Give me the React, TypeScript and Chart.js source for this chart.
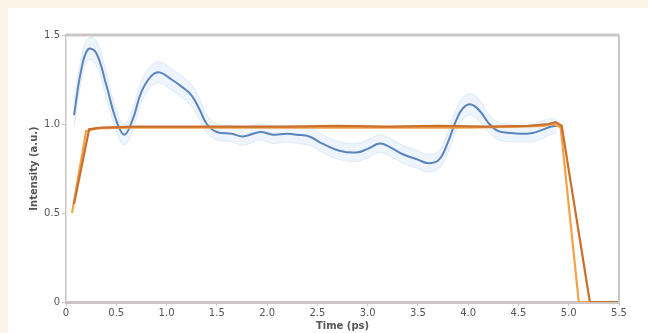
import React, { useEffect, useRef } from "react";
import { Chart, registerables } from "chart.js";

Chart.register(...registerables);

const xTicks = [0, 0.5, 1, 1.5, 2, 2.5, 3, 3.5, 4, 4.5, 5, 5.5];
const yTicks = [0, 0.5, 1, 1.5];

const blueT = [0.08,0.15,0.22,0.30,0.40,0.50,0.58,0.66,0.75,0.85,
  0.93,1.05,1.15,1.25,1.33,1.40,1.50,1.65,1.76,1.93,
  2.06,2.20,2.30,2.42,2.55,2.72,2.89,3.00,3.12,3.22,
  3.35,3.50,3.60,3.71,3.80,3.88,3.95,4.03,4.12,4.21,
  4.30,4.41,4.52,4.64,4.75,4.82,4.88];
const blueV = [1.05,1.30,1.42,1.40,1.22,1.02,0.94,1.02,1.18,1.27,
  1.29,1.25,1.21,1.16,1.08,1.00,0.955,0.945,0.93,0.955,
  0.94,0.945,0.94,0.93,0.89,0.85,0.84,0.86,0.89,0.87,
  0.83,0.80,0.78,0.80,0.90,1.02,1.09,1.11,1.07,1.00,
  0.96,0.95,0.945,0.95,0.97,0.985,0.99];
const blueHi = [1.12,1.37,1.48,1.47,1.29,1.08,1.00,1.08,1.24,1.33,
  1.35,1.31,1.27,1.22,1.14,1.05,1.00,0.99,0.98,1.00,
  0.99,0.99,0.99,0.98,0.94,0.90,0.89,0.91,0.94,0.92,
  0.88,0.85,0.83,0.85,0.96,1.08,1.15,1.17,1.13,1.05,
  1.01,1.00,0.99,1.00,1.02,1.03,1.03];
const blueLo = [0.98,1.23,1.36,1.33,1.15,0.96,0.88,0.96,1.12,1.21,
  1.23,1.19,1.15,1.10,1.02,0.95,0.91,0.90,0.88,0.91,
  0.89,0.90,0.89,0.88,0.84,0.80,0.79,0.81,0.84,0.82,
  0.78,0.75,0.73,0.75,0.84,0.96,1.03,1.05,1.01,0.95,
  0.91,0.90,0.90,0.90,0.92,0.94,0.95];

const orangeT = [0.06,0.20,0.30,0.60,1.0,1.5,2.0,2.5,3.0,3.5,4.0,4.5,4.75,4.85,4.92,5.10,5.5];
const orangeV = [0.50,0.96,0.975,0.98,0.98,0.98,0.98,0.98,0.98,0.98,0.98,0.985,0.99,1.0,0.98,0,0];
const brownT = [0.08,0.23,0.35,0.70,1.2,1.7,2.2,2.7,3.2,3.7,4.2,4.6,4.8,4.87,4.93,5.21,5.5];
const brownV = [0.55,0.97,0.98,0.985,0.985,0.985,0.985,0.99,0.985,0.99,0.985,0.99,1.0,1.01,0.99,0,0];

const pts = (t: number[], v: number[]) => t.map((x, i) => ({ x, y: v[i] }));

const frameColor = "#cbc6c6";
const textColor = "#555555";
const cream = "#fdf4e8";

export default function App() {
  const ref = useRef<HTMLCanvasElement | null>(null);
  useEffect(() => {
    document.body.style.margin = "0";
    document.body.style.background = "#ffffff";
    const framePlugin = {
      id: "frame",
      afterDraw(chart: any) {
        const { ctx, chartArea } = chart;
        ctx.save();
        ctx.strokeStyle = frameColor;
        ctx.lineWidth = 3;
        ctx.beginPath();
        ctx.moveTo(chartArea.left, chartArea.top);
        ctx.lineTo(chartArea.right, chartArea.top);
        ctx.stroke();
        ctx.lineWidth = 2;
        ctx.beginPath();
        ctx.moveTo(chartArea.right, chartArea.top);
        ctx.lineTo(chartArea.right, chartArea.bottom);
        ctx.stroke();
        ctx.restore();
      },
    };
    const chart = new Chart(ref.current!, {
      type: "line",
      data: {
        datasets: [
          {
            data: pts(brownT, brownV),
            borderColor: "#c8702c",
            borderWidth: 2.2,
            pointRadius: 0,
            tension: 0,
            order: 0,
          },
          {
            data: pts(orangeT, orangeV),
            borderColor: "#f3a24a",
            borderWidth: 2.2,
            pointRadius: 0,
            tension: 0,
            order: 1,
          },
          {
            data: pts(blueT, blueV),
            borderColor: "#5a84bd",
            borderWidth: 2,
            pointRadius: 0,
            tension: 0.4,
            order: 2,
          },
          {
            data: pts(blueT, blueHi),
            borderColor: "rgba(170,200,235,0.4)",
            borderWidth: 0.8,
            pointRadius: 0,
            tension: 0.4,
            fill: "+1",
            backgroundColor: "rgba(195,218,243,0.3)",
            order: 3,
          },
          {
            data: pts(blueT, blueLo),
            borderColor: "rgba(170,200,235,0.4)",
            borderWidth: 0.8,
            pointRadius: 0,
            tension: 0.4,
            order: 4,
          },
        ],
      },
      options: {
        animation: false,
        responsive: true,
        maintainAspectRatio: false,
        layout: { padding: { top: 27, right: 29, left: 0, bottom: 0 } },
        plugins: { legend: { display: false }, tooltip: { enabled: false } },
        scales: {
          x: {
            type: "linear",
            min: 0,
            max: 5.5,
            afterBuildTicks: (s: any) => {
              s.ticks = xTicks.map((v) => ({ value: v }));
            },
            afterFit: (s: any) => {
              s.height = 31;
            },
            grid: { drawOnChartArea: false, tickLength: 4, color: frameColor },
            border: { display: true, color: frameColor, width: 3 },
            ticks: {
              color: textColor,
              font: { family: "DejaVu Sans", size: 10 },
              padding: 1,
              maxRotation: 0,
              autoSkip: false,
            },
            title: {
              display: true,
              text: "Time (ps)",
              color: textColor,
              font: { family: "DejaVu Sans", size: 10, weight: "bold" },
              padding: { top: 0, bottom: 1 },
            },
          },
          y: {
            type: "linear",
            min: 0,
            max: 1.5,
            afterBuildTicks: (s: any) => {
              s.ticks = yTicks.map((v) => ({ value: v }));
            },
            afterFit: (s: any) => {
              s.width = 58;
            },
            grid: { drawOnChartArea: false, tickLength: 4, color: frameColor },
            border: { display: true, color: frameColor, width: 1.5 },
            ticks: {
              color: textColor,
              font: { family: "DejaVu Sans", size: 10 },
              padding: 2,
            },
            title: {
              display: true,
              text: "Intensity (a.u.)",
              color: textColor,
              font: { family: "DejaVu Sans", size: 10, weight: "bold" },
              padding: { top: 20, bottom: 0 },
            },
          },
        },
      },
      plugins: [framePlugin],
    } as any);
    return () => chart.destroy();
  }, []);
  return (
    <div
      style={{
        width: 648,
        height: 333,
        boxSizing: "border-box",
        borderTop: `8px solid ${cream}`,
        borderLeft: `8px solid ${cream}`,
        background: "#ffffff",
      }}
    >
      <div style={{ position: "relative", width: 640, height: 325 }}>
        <canvas ref={ref} />
      </div>
    </div>
  );
}
